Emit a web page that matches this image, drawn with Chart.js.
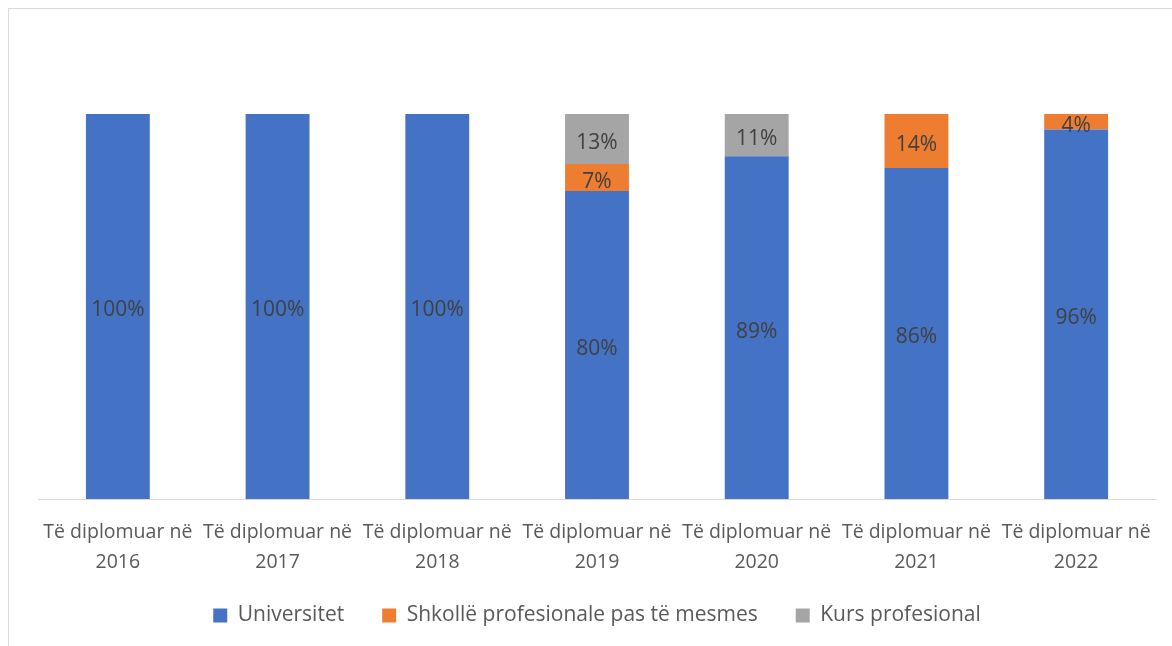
<!DOCTYPE html>
<html>
<head>
<meta charset="utf-8">
<script src="https://cdn.jsdelivr.net/npm/chart.js@4"></script>
<style>
    body { margin: 0; background: #fff; }
    #wrap { position: relative; width: 1172px; height: 646px; overflow: hidden; }
    #frame { position: absolute; left: 8px; top: 8px; width: 1200px; height: 700px; border: 1px solid #d9d9d9; }
    canvas { position: absolute; left: 0; top: 0; }
</style>
</head>
<body>
<div id="wrap">
    <div id="frame"></div>
    <canvas id="chart" width="1172" height="646"></canvas>
</div>
<script>
// Data
const years = ['2016', '2017', '2018', '2019', '2020', '2021', '2022'];
const universitet = [100, 100, 100, 80, 89, 86, 96];
const shkolle = [null, null, null, 7, null, 14, 4];
const kurs = [null, null, null, 13, 11, null, null];

const categories = years.map(y => ['Të diplomuar në', y]);
const fontFamily = '"Open Sans", sans-serif';

// draws the percentage in the middle of every segment
const barLabels = {
    id: 'barLabels',
    afterDatasetsDraw(chart) {
        const ctx = chart.ctx;
        ctx.save();
        ctx.font = '21px ' + fontFamily;
        ctx.fillStyle = '#404040';
        ctx.textAlign = 'center';
        ctx.textBaseline = 'middle';
        chart.data.datasets.forEach((ds, i) => {
            chart.getDatasetMeta(i).data.forEach((bar, j) => {
                const v = ds.data[j];
                if (v == null) return;
                const p = bar.getProps(['x', 'y', 'base'], true);
                ctx.fillText(v + '%', p.x, (p.y + p.base) / 2 + 4);
            });
        });
        ctx.restore();
    }
};

// the legend sits a bit higher than its padding would put it
const legendShift = {
    id: 'legendShift',
    afterLayout(chart) {
        chart.legend.top -= 10;
        chart.legend.bottom -= 10;
    }
};

new Chart(document.getElementById('chart'), {
    type: 'bar',
    data: {
        labels: categories,
        datasets: [
            { label: 'Universitet', data: universitet, backgroundColor: '#4472c4' },
            { label: 'Shkollë profesionale pas të mesmes', data: shkolle, backgroundColor: '#ed7d31' },
            { label: 'Kurs profesional', data: kurs, backgroundColor: '#a5a5a5' }
        ]
    },
    options: {
        responsive: false,
        animation: false,
        layout: { padding: { left: 38, right: 16, top: 37, bottom: 0 } },
        datasets: { bar: { categoryPercentage: 1, barPercentage: 0.4 } },
        plugins: {
            legend: {
                position: 'bottom',
                labels: {
                    boxWidth: 14, boxHeight: 14, padding: 38,
                    color: '#595959',
                    font: { family: fontFamily, size: 21 }
                }
            },
            tooltip: { enabled: false }
        },
        scales: {
            x: {
                stacked: true,
                grid: { display: false },
                border: { color: '#d9d9d9', width: 1 },
                ticks: {
                    color: '#595959', autoSkip: false, maxRotation: 0, minRotation: 0,
                    font: { family: fontFamily, size: 19.5, lineHeight: 1.54 }, padding: 10
                },
                afterFit(scale) { scale.height = 78; }
            },
            y: { stacked: true, display: false, min: 0, max: 120 }
        }
    },
    plugins: [barLabels, legendShift]
});
</script>
</body>
</html>
